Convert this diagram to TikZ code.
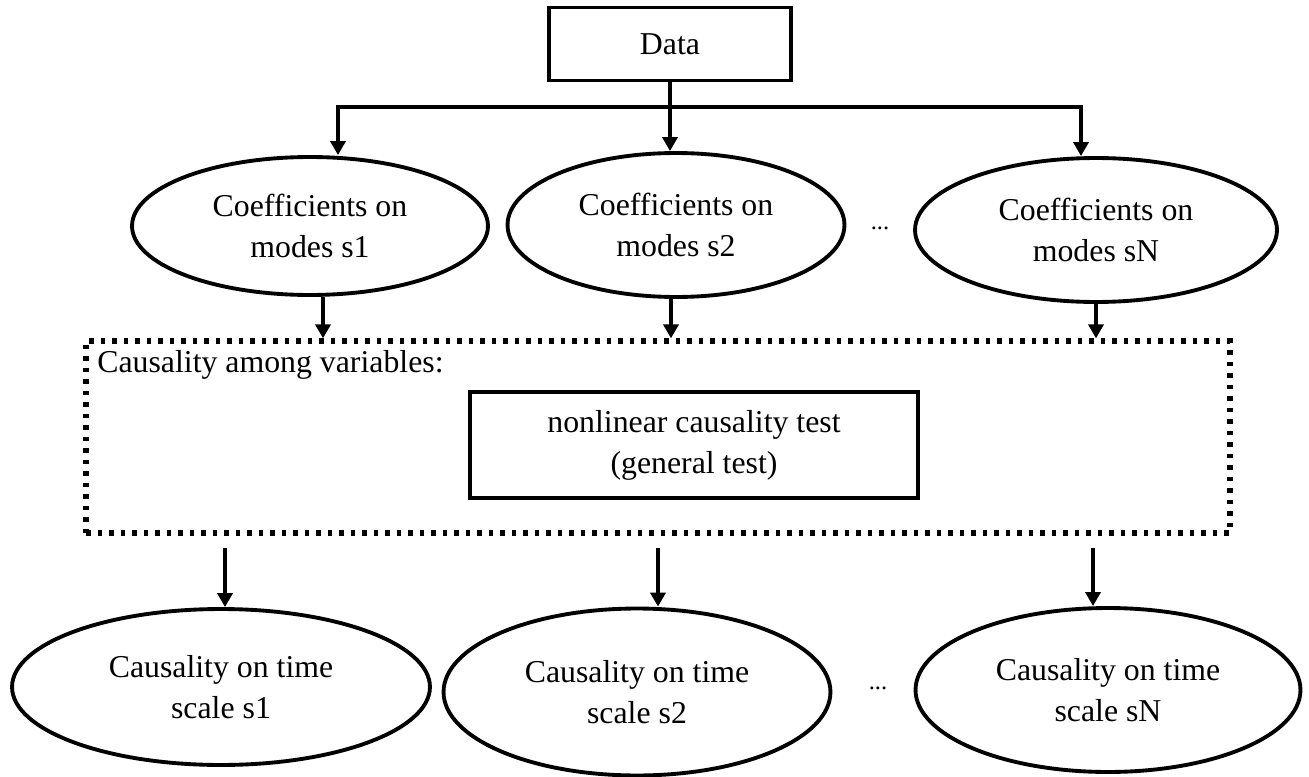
\documentclass[tikz,border=0pt]{standalone}
\usepackage{fontspec}
\setmainfont{Liberation Serif}
\usetikzlibrary{arrows.meta,shapes.geometric,positioning}

\begin{document}
\begin{tikzpicture}
		[x=0.02cm, y=-0.02cm,
		font=\fontsize{18.1}{23.3}\selectfont,
		block/.style ={rectangle, draw=black, line width=2.2pt, align=center},
		ell/.style ={ellipse, draw=black, line width=2.2pt, align=center},
		line/.style ={draw, line width=2.1pt},
		arr/.style ={line, -{Triangle[length=0.28cm,width=0.3cm]}},
		dotbox/.style ={draw=black, line width=3pt, dash pattern=on 0.09cm off 0.14cm},
		nonrect/.style ={inner sep=0pt, anchor=base west},
		more/.style ={font=\fontsize{14}{16}\selectfont, anchor=base},
		]
		\useasboundingbox (0,0) rectangle (1309,777);

		\draw (670,44) node[block, minimum width=4.84cm, minimum height=1.46cm] (data) {Data};
		\coordinate (fork) at (670,107);

		\draw (310,226) node[ell, minimum width=7.12cm, minimum height=2.76cm] (e1) {Coefficients on\\modes s1};
		\draw (676,225) node[ell, minimum width=6.74cm, minimum height=2.88cm] (e2) {Coefficients on\\modes s2};
		\draw (1096,230) node[ell, minimum width=7.24cm, minimum height=2.88cm] (e3) {Coefficients on\\modes sN};
		\draw (880,229) node[more] (d1) {...};

		\draw (658,437) node[dotbox, minimum width=22.88cm, minimum height=3.84cm] (cbox) {};
		\draw (97,372) node[nonrect] (clab) {Causality among variables:};
		\draw (694,445) node[block, minimum width=8.96cm, minimum height=2.12cm] (test) {nonlinear causality test\\(general test)};

		\draw (221,687) node[ell, minimum width=8.36cm, minimum height=3.12cm] (b1) {Causality on time\\scale s1};
		\draw (637,692) node[ell, minimum width=7.74cm, minimum height=3.34cm] (b2) {Causality on time\\scale s2};
		\draw (1108,690) node[ell, minimum width=7.7cm, minimum height=3.28cm] (b3) {Causality on time\\scale sN};
		\draw (878,689) node[more] (d2) {...};

		% data to the modes
		\path[line] (data) -- (fork);
		\draw[arr] (fork) -| ([xshift=0.56cm]e1.north);
		\draw[arr] (fork) -- (fork |- e2.north);
		\draw[arr] (fork) -| ([xshift=-0.3cm]e3.north);

		% modes to the test
		\draw[arr] ([xshift=0.26cm]e1.south) -- ([xshift=0.26cm]e1.south |- cbox.north);
		\draw[arr] ([xshift=-0.1cm]e2.south) -- ([xshift=-0.1cm]e2.south |- cbox.north);
		\draw[arr] (e3.south) -- (e3.south |- cbox.north);

		% test to the time scales
		\draw[arr, shorten <=0.24cm] ([xshift=0.08cm]b1.north |- cbox.south) -- ([xshift=0.08cm]b1.north);
		\draw[arr, shorten <=0.24cm] ([xshift=0.42cm]b2.north |- cbox.south) -- ([xshift=0.42cm]b2.north);
		\draw[arr, shorten <=0.24cm] ([xshift=-0.3cm]b3.north |- cbox.south) -- ([xshift=-0.3cm]b3.north);
	\end{tikzpicture}
\end{document}
